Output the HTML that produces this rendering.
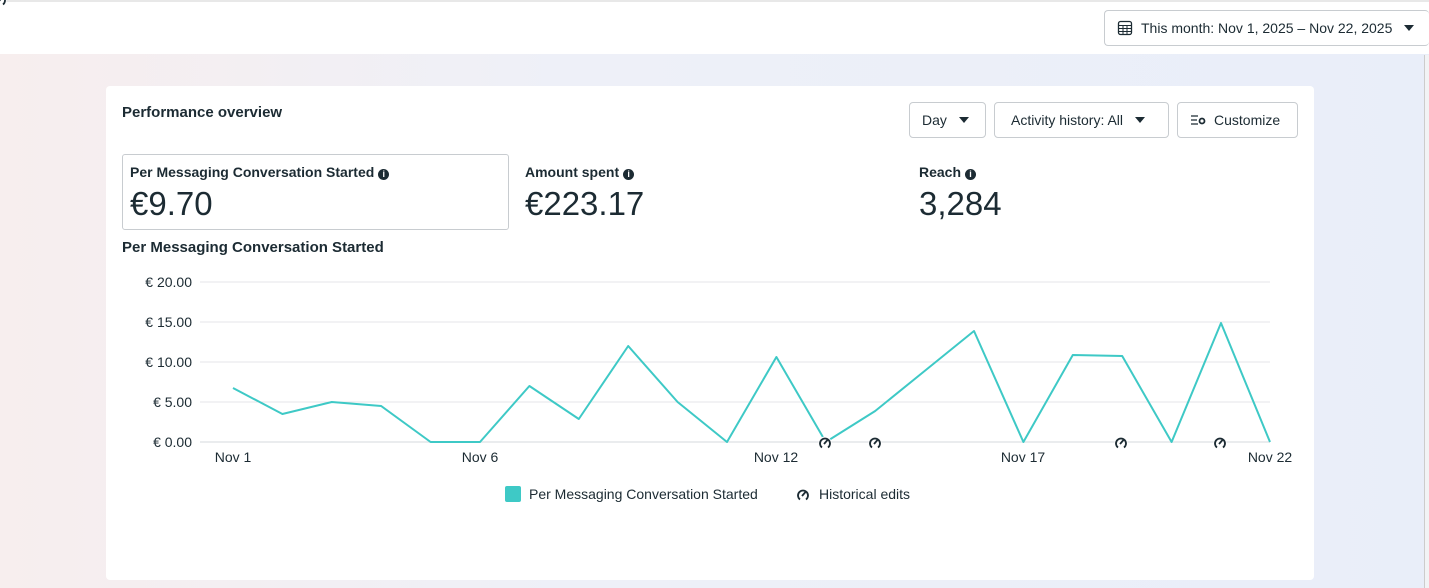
<!DOCTYPE html>
<html><head><meta charset="utf-8"><style>
*{box-sizing:border-box;margin:0;padding:0}
body{width:1429px;height:588px;overflow:hidden;font-family:"Liberation Sans",sans-serif;color:#1c2b33;background:linear-gradient(90deg,#f7eeee 0%,#eef0f8 40%,#e9eef9 100%);position:relative}
.top{position:absolute;left:0;top:0;width:1429px;height:54px;background:#fff;border-top:2px solid #e8e8e8}
.btn{position:absolute;border:1px solid #c8ccd0;border-radius:4px;background:#fff;font-size:14px;display:flex;align-items:center;padding:0 12px;color:#1c2b33}
.tri{display:inline-block;width:0;height:0;border-left:5px solid transparent;border-right:5px solid transparent;border-top:6px solid #1c2b33;margin-left:12px}
.card{position:absolute;left:106px;top:86px;width:1208px;height:494px;background:#fff;border-radius:4px}
.abs{position:absolute}
.lbl{font-size:14px;font-weight:bold}
.big{font-size:33px}
.i{display:inline-block;width:11px;height:11px;border-radius:50%;background:#1c2b33;color:#fff;font-size:9px;text-align:center;line-height:11px;margin-left:4px;vertical-align:0px}
</style></head><body>
<div class="top"></div>
<div class="btn" style="left:1104px;top:10px;width:325px;height:36px;border-right:none">
<svg width="16" height="16" viewBox="0 0 16 16" style="margin-right:8px"><rect x="1.5" y="1.5" width="13" height="13" rx="2" fill="none" stroke="#1c2b33" stroke-width="1.3"/><path d="M1.5 5.5h13M1.5 8.5h13M1.5 11.5h13M6 5.5v9M10 5.5v9" stroke="#1c2b33" stroke-width="1"/></svg>
This month: Nov 1, 2025 – Nov 22, 2025<span class="tri"></span></div>
<div style="position:absolute;left:1424px;top:55px;width:5px;height:533px;background:#f2f3f5;border-left:1px solid #ccc"></div>
<div class="card">
<div class="abs lbl" style="left:16px;top:18px;font-size:15px">Performance overview</div>
<div class="btn" style="left:803px;top:16px;width:77px;height:36px">Day<span class="tri"></span></div>
<div class="btn" style="left:888px;top:16px;width:175px;height:36px;padding-left:16px">Activity history: All<span class="tri"></span></div>
<div class="btn" style="left:1071px;top:16px;width:121px;height:36px">
<svg width="16" height="12" style="margin-right:8px"><path d="M1 2h7M1 6h6M1 10h7" stroke="#1c2b33" stroke-width="1.2"/><circle cx="12" cy="7" r="2.5" fill="none" stroke="#1c2b33" stroke-width="1.8"/></svg>Customize</div>
<div class="abs" style="left:16px;top:68px;width:387px;height:76px;border:1px solid #c8ccd0;border-radius:3px"></div>
<div class="abs lbl" style="left:24px;top:78px">Per Messaging Conversation Started<span class="i">i</span></div>
<div class="abs big" style="left:24px;top:99px">€9.70</div>
<div class="abs lbl" style="left:419px;top:78px">Amount spent<span class="i">i</span></div>
<div class="abs big" style="left:419px;top:99px">€223.17</div>
<div class="abs lbl" style="left:813px;top:78px">Reach<span class="i">i</span></div>
<div class="abs big" style="left:813px;top:99px">3,284</div>
<div class="abs lbl" style="left:16px;top:153px;font-size:15px">Per Messaging Conversation Started</div>
</div>
<svg class="abs" style="left:0;top:0" width="1429" height="588">
<g stroke="#e4e6e8" stroke-width="1">
<line x1="200" x2="1270" y1="282" y2="282"/><line x1="200" x2="1270" y1="322" y2="322"/><line x1="200" x2="1270" y1="362" y2="362"/><line x1="200" x2="1270" y1="402" y2="402"/><line x1="200" x2="1270" y1="442" y2="442" stroke-width="1.5"/>
</g>
<g font-family="Liberation Sans,sans-serif" font-size="14" fill="#1c2b33" text-anchor="end">
<text x="192" y="287">€ 20.00</text><text x="192" y="327">€ 15.00</text><text x="192" y="367">€ 10.00</text><text x="192" y="407">€ 5.00</text><text x="192" y="447">€ 0.00</text>
</g>
<g font-family="Liberation Sans,sans-serif" font-size="14" fill="#1c2b33" text-anchor="middle">
<text x="233" y="462">Nov 1</text><text x="480" y="462">Nov 6</text><text x="776" y="462">Nov 12</text><text x="1023" y="462">Nov 17</text><text x="1270" y="462">Nov 22</text>
</g>
<polyline fill="none" stroke="#3ec9c6" stroke-width="2" stroke-linejoin="round" points="233,388 282.4,414 331.8,402 381.2,406 430.6,442 480,442 529.4,386 578.8,419 628.2,346 677.6,402 727,442 776.4,357 825.8,442 875.2,411 924.6,371 974,331 1023.4,442 1072.8,355 1122.2,356 1171.6,442 1221,323 1270,442"/>
<g id="h"><circle r="6.5" fill="#fff"/><path d="M-3 4.5A5 5 0 1 1 3 4.5" fill="none" stroke="#1c2b33" stroke-width="1.8"/><path d="M-1 1L2.5 -3" stroke="#1c2b33" stroke-width="1.8"/></g>
<use href="#h" x="825" y="443"/><use href="#h" x="875" y="443"/><use href="#h" x="1121" y="443"/><use href="#h" x="1220" y="443"/>
<rect x="505" y="486" width="16" height="16" rx="2" fill="#3ec9c6"/>
<text x="529" y="499" font-family="Liberation Sans,sans-serif" font-size="14" fill="#1c2b33">Per Messaging Conversation Started</text>
<use href="#h" x="803" y="495"/>
<text x="819" y="499" font-family="Liberation Sans,sans-serif" font-size="14" fill="#1c2b33">Historical edits</text>
</svg>
</body></html>
